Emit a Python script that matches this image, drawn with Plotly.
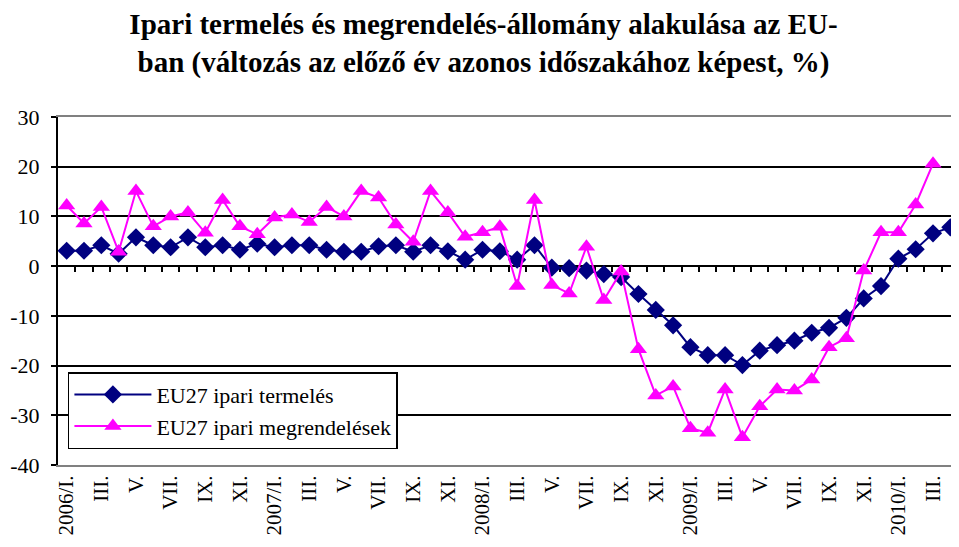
import plotly.graph_objects as go

months = ["I.", "II.", "III.", "IV.", "V.", "VI.", "VII.", "VIII.", "IX.", "X.", "XI.", "XII."]
years = [2006, 2007, 2008, 2009, 2010]
categories = []
for y in years:
    for i, m in enumerate(months):
        categories.append(f"{y}/{m}" if i == 0 else m)
categories = categories[:52]

production = [3.1, 3.1, 4.2, 2.5, 5.8, 4.2, 3.8, 5.8, 3.8, 4.2, 3.3, 4.5, 3.8, 4.2, 4.2, 3.3,
              2.9, 2.9, 4.0, 4.2, 2.9, 4.2, 3.0, 1.3, 3.3, 3.0, 1.3, 4.2, -0.3, -0.4, -0.9, -1.6,
              -2.2, -5.6, -8.8, -11.9, -16.3, -17.9, -17.9, -19.9, -17.0, -15.9, -15.0, -13.4, -12.4, -10.4, -6.5, -4.0,
              1.5, 3.4, 6.6, 7.8]
orders = [12.2, 8.6, 11.9, 2.9, 15.1, 8.0, 10.0, 10.8, 6.7, 13.3, 8.0, 6.4, 9.8, 10.4, 8.9, 11.9,
          10.0, 15.1, 13.8, 8.4, 4.9, 15.1, 10.8, 5.9, 6.8, 7.9, -4.0, 13.3, -3.8, -5.5, 3.9, -6.8,
          -1.1, -16.7, -26.0, -24.2, -32.6, -33.5, -24.8, -34.4, -28.2, -24.8, -25.0, -22.8, -16.3, -14.5, -0.9, 6.8,
          6.8, 12.4, 20.6, None]

y_ticks = [-40, -30, -20, -10, 0, 10, 20, 30]
y_tick_text = ["-40", "-30", "-20", "-10", "0", "10", "20", "30"]

x = list(range(len(categories)))
tick_idx = x[::2]
tick_text = [categories[i] for i in tick_idx]
boundaries = [i + 0.5 for i in x[:-1]]

SERIF = "Liberation Serif"

fig = go.Figure()
# helper trace that only makes the zero-line axis (x2) exist
fig.add_trace(go.Scatter(x=[None], y=[None], xaxis="x2", showlegend=False, hoverinfo="skip"))
fig.add_trace(go.Scatter(
    x=x, y=production, name="EU27 ipari termelés", mode="lines+markers",
    line=dict(color="#000080", width=2),
    marker=dict(symbol="diamond", size=14, color="#000080"),
))
fig.add_trace(go.Scatter(
    x=x, y=orders, name="EU27 ipari megrendelések", mode="lines+markers",
    line=dict(color="#FF00FF", width=2),
    marker=dict(symbol="triangle-up", size=15, color="#FF00FF"),
))

y_lo, y_hi = -40, 30
zero_pos = (0 - y_lo) / (y_hi - y_lo)

fig.update_layout(
    width=951, height=539,
    margin=dict(l=50, r=0, t=109, b=82, autoexpand=False),
    paper_bgcolor="white", plot_bgcolor="white",
    font=dict(family=SERIF, color="black", size=20),
    title=dict(
        text="<b>Ipari termelés és megrendelés-állomány alakulása az EU-<br>ban (változás az előző év azonos időszakához képest, %)</b>",
        x=0.5, xref="container", xanchor="center",
        y=0.951, yref="container", yanchor="top",
        font=dict(family=SERIF, size=29, color="black"),
    ),
    xaxis=dict(
        range=[-0.5, 51.5], tickmode="array", tickvals=tick_idx, ticktext=tick_text,
        tickangle=-90, ticks="", showgrid=False, zeroline=False,
        showline=True, linecolor="#808080", linewidth=2, mirror=True,
        tickfont=dict(family=SERIF, size=21),
    ),
    xaxis2=dict(
        range=[-0.5, 51.5], overlaying="x", anchor="free", position=zero_pos,
        tickmode="array", tickvals=boundaries, showticklabels=False,
        ticks="outside", ticklen=5, tickwidth=1.5, tickcolor="black",
        showline=True, linecolor="black", linewidth=1.5,
        showgrid=False, zeroline=False, layer="below traces",
    ),
    yaxis=dict(
        range=[y_lo, y_hi], tickmode="array", tickvals=y_ticks, ticktext=y_tick_text,
        ticks="outside", ticklen=5, tickwidth=1.5, tickcolor="black",
        showline=True, linecolor="black", linewidth=2,
        showgrid=True, gridcolor="black", gridwidth=1.5,
        zeroline=False, tickfont=dict(family=SERIF, size=22), ticklabelstandoff=7,
    ),
    legend=dict(
        x=0.011, y=0.267, xanchor="left", yanchor="top",
        bgcolor="white", bordercolor="black", borderwidth=1.5,
        font=dict(family=SERIF, size=22), itemwidth=77,
    ),
    showlegend=True,
)

fig.write_html("out.html")
